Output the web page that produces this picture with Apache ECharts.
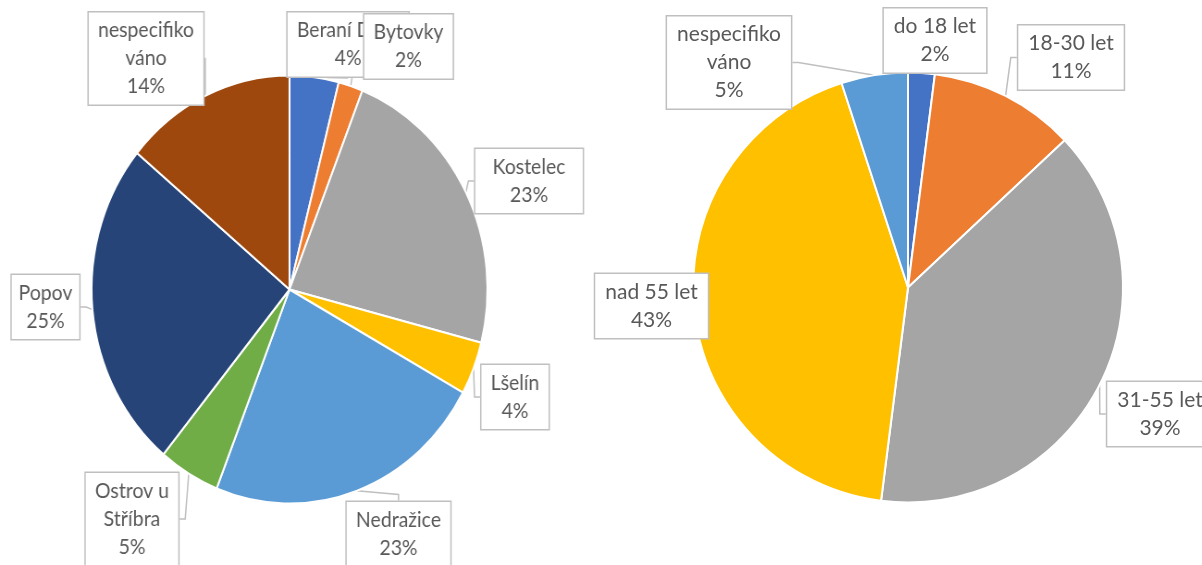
<!DOCTYPE html>
<html>
<head>
<meta charset="utf-8">
<script src="https://cdn.jsdelivr.net/npm/echarts@6/dist/echarts.min.js"></script>
<style>
html,body{margin:0;padding:0;background:#fff;overflow:hidden;}
#left{position:absolute;left:0;top:0;width:650px;height:565px;transform:scaleX(0.925);transform-origin:0 0;}
#right{position:absolute;left:380px;top:0;width:1100px;height:565px;}
</style>
</head>
<body>
<div id="right"></div>
<div id="left"></div>
<script>
// Left chart data
const leftCategories = ['Beraní Dvůr', 'Bytovky', 'Kostelec', 'Lšelín', 'Nedražice', 'Ostrov u Stříbra', 'Popov', 'nespecifikováno'];
const leftLabels = ['Beraní Dvůr', 'Bytovky', 'Kostelec', 'Lšelín', 'Nedražice', 'Ostrov u\nStříbra', 'Popov', 'nespecifiko\nváno'];
const leftValues = [4, 2, 23, 4, 23, 5, 25, 14];
const leftColors = ['#4472C4', '#ED7D31', '#A5A5A5', '#FFC000', '#5B9BD5', '#70AD47', '#264478', '#9E480E'];

// Right chart data
const rightCategories = ['do 18 let', '18-30 let', '31-55 let', 'nad 55 let', 'nespecifikováno'];
const rightLabels = ['do 18 let', '18-30 let', '31-55 let', 'nad 55 let', 'nespecifiko\nváno'];
const rightValues = [2, 11, 39, 43, 5];
const rightColors = ['#4472C4', '#ED7D31', '#A5A5A5', '#FFC000', '#5B9BD5'];

// label box centres (layout)
const SX = 0.925;
const RX = 380;
const leftLabelPos = [[348, 44.5], [408.5, 46.5], [529, 181], [515, 397], [398.5, 534], [132, 519], [45.5, 307], [146, 58.5]].map(p => [p[0] / SX, p[1]]);
const rightLabelPos = [[935, 40.5], [1071, 57.5], [1160, 414], [651.5, 306], [729, 62.5]].map(p => [p[0] - RX, p[1]]);

function makeOption(cats, labels, vals, colors, pos, center, radius) {
  return {
    animation: false,
    series: [{
      type: 'pie',
      startAngle: 90,
      clockwise: true,
      center: center,
      radius: radius,
      data: cats.map((c, i) => ({ name: c, value: vals[i], itemStyle: { color: colors[i] } })),
      itemStyle: { borderColor: '#fff', borderWidth: 2 },
      label: {
        show: true,
        position: 'outside',
        overflow: 'none',
        formatter: p => labels[p.dataIndex] + '\n' + Math.round(p.percent) + '%',
        fontFamily: 'Lato',
        fontSize: 21,
        lineHeight: 28,
        color: '#595959',
        align: 'center',
        backgroundColor: '#fff',
        borderColor: '#BFBFBF',
        borderWidth: 1.5,
        padding: [4, 10]
      },
      labelLine: { show: true, length: 6, length2: 6, lineStyle: { color: '#BFBFBF', width: 1.5 } },
      labelLayout: params => ({
        x: pos[params.dataIndex][0],
        y: pos[params.dataIndex][1],
        align: 'center',
        verticalAlign: 'middle'
      })
    }]
  };
}

const lc = echarts.init(document.getElementById('left'), null, { renderer: 'canvas' });
lc.setOption(makeOption(leftCategories, leftLabels, leftValues, leftColors, leftLabelPos, [289.5 / SX, 289.5], 214));
const rc = echarts.init(document.getElementById('right'), null, { renderer: 'canvas' });
rc.setOption(makeOption(rightCategories, rightLabels, rightValues, rightColors, rightLabelPos, [908 - RX, 287.5], 215));
</script>
</body>
</html>
